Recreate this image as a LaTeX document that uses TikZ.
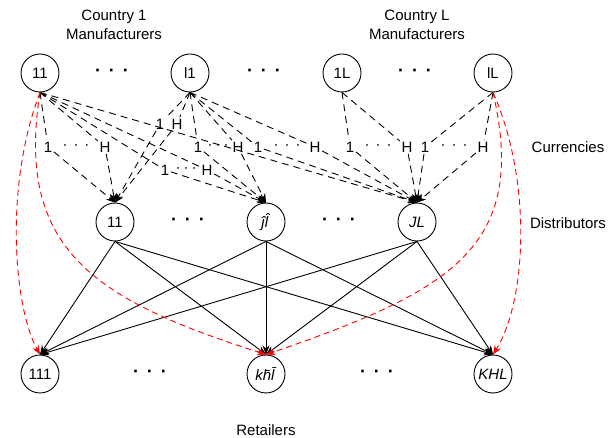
\documentclass[tikz,border=0pt]{standalone}
\usepackage{fontspec}
\setmainfont{Liberation Sans}
\usetikzlibrary{arrows.meta}
\newcommand{\bigdts}{{\fontsize{18}{18}\selectfont\bfseries ·\hspace{8pt}·\hspace{8pt}·}}
\newcommand{\smdts}[1]{·\hspace{#1}·\hspace{#1}·}
\begin{document}
\begin{tikzpicture}[x=1pt,y=-1pt,
  every node/.style={font=\fontsize{15}{19}\selectfont},
  ent/.style={circle,draw,line width=0.9pt,minimum size=38pt,inner sep=0pt},
  cur/.style={inner sep=1.5pt},
  dsh/.style={dash pattern=on 7pt off 5pt,line width=0.9pt},
  tip/.style={-{Stealth[length=9pt,width=7pt]}},
  sol/.style={line width=0.9pt,-{Stealth[length=9pt,width=7pt]}},
  rdsh/.style={draw=red,dash pattern=on 6pt off 4pt,line width=0.9pt,-{Stealth[length=9pt,width=7pt,fill=red]}},
  lbl/.style={align=center}
]
\useasboundingbox (0,0) rectangle (610,438);
% manufacturers
\node[ent] (m11) at (40,73) {11};
\node[ent] (ml1) at (190,73) {l1};
\node[ent] (m1L) at (342,73) {1L};
\node[ent] (mlL) at (493,73) {lL};
\node (t1) at (112,73) {\bigdts};
\node (t2) at (264,73) {\bigdts};
\node (t3) at (415,73) {\bigdts};
\node[lbl] (c1lab) at (114,25) {Country 1\\Manufacturers};
\node[lbl] (cLlab) at (417,25) {Country L\\Manufacturers};
% distributors
\node[ent] (d11) at (115,222) {11};
\node[ent] (dj) at (266,222) {\textit{ĵl̂}};
\node[ent] (dJL) at (417,222) {\textit{JL}};
\node (u1) at (188,222) {\bigdts};
\node (u2) at (339,222) {\bigdts};
% retailers
\node[ent] (r111) at (40,374) {111};
\node[ent] (rk) at (266,374) {\textit{kh̄l̄}};
\node[ent] (rK) at (493,374) {\textit{KHL}};
\node (v1) at (150,374) {\bigdts};
\node (v2) at (377,374) {\bigdts};
% side labels
\node (curlab) at (568,147) {Currencies};
\node (dislab) at (568,223) {Distributors};
\node[inner sep=0pt] (retlab) at (266,430) {Retailers};
% currency labels
\node[cur] (a1) at (48,147) {1};
\node[cur] (aH) at (105,147) {H};
\node (ad) at (76,147) {\smdts{6pt}};
\node[cur] (b1) at (160,124) {1};
\node[cur] (bH) at (177,124) {H};
\node[cur] (c1) at (165,170) {1};
\node[cur] (cH) at (207,170) {H};
\node (cd) at (186,170) {\smdts{3pt}};
\node[cur] (p1) at (198,147) {1};
\node[cur] (pH) at (238,147) {H};
\node (pd) at (218,147) {\smdts{3pt}};
\node[cur] (e1) at (258,147) {1};
\node[cur] (eH) at (315,147) {H};
\node (ed) at (287,147) {\smdts{6pt}};
\node[cur] (f1) at (350,147) {1};
\node[cur] (fH) at (407,147) {H};
\node (fd) at (378,147) {\smdts{6pt}};
\node[cur] (g1) at (425,147) {1};
\node[cur] (gH) at (483,147) {H};
\node (gd) at (454,147) {\smdts{6pt}};
% manufacturer -> currency -> distributor
\foreach \m/\c/\d in {m11/a1/d11, m11/aH/d11, m11/c1/dj, m11/cH/dj,
  ml1/b1/d11, ml1/bH/d11, ml1/p1/dj, ml1/pH/dj, ml1/e1/dJL, ml1/eH/dJL,
  m1L/f1/dJL, m1L/fH/dJL, mlL/g1/dJL, mlL/gH/dJL}{
  \draw[dsh] (\m.south) -- (\c);
  \draw[dsh,tip] (\c) -- (\d.north);
}
\draw[dsh,tip] (m11.south) -- (dJL.north);
% distributors -> retailers
\foreach \d in {d11,dj,dJL}{
  \foreach \r in {r111,rk,rK}{
    \draw[sol] (\d.south) -- (\r.north);
  }
}
% red curves
\draw[rdsh] (m11.south) .. controls (3,190) and (15,310) .. (r111.north);
\draw[rdsh] (m11.south) .. controls (15,250) and (95,300) .. (rk.north);
\draw[rdsh] (mlL.south) .. controls (532,180) and (527,300) .. (rK.north);
\draw[rdsh] (mlL.south) .. controls (528,245) and (455,290) .. (rk.north);
\end{tikzpicture}
\end{document}
